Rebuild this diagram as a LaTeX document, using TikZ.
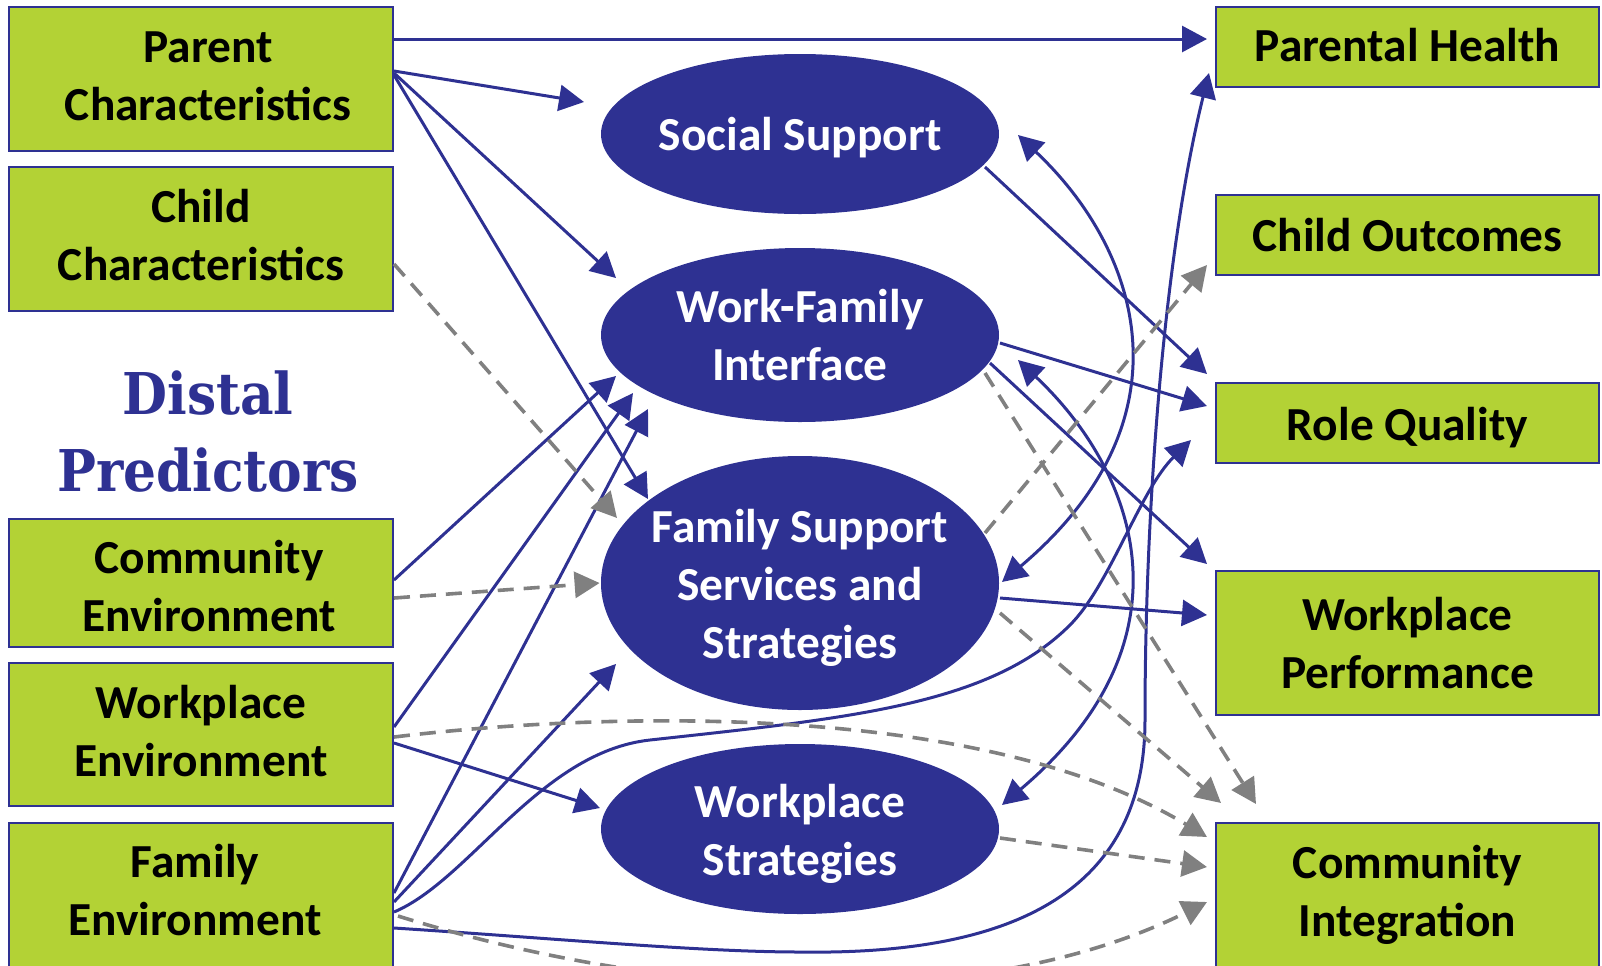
\documentclass[tikz,border=0pt]{standalone}
\usepackage{fontspec}
\setmainfont{Carlito}
\newfontfamily\slabfont{DejaVu Serif Condensed}
\usetikzlibrary{arrows.meta,shapes.geometric,calc}

\definecolor{boxgreen}{RGB}{179,210,53}
\definecolor{deepblue}{RGB}{46,49,146}
\definecolor{linegray}{RGB}{128,128,128}

\tikzset{
  labelfont/.style={font=\bfseries\fontsize{23.7}{29}\selectfont},
  boxtext/.style={text=black, align=center, labelfont},
  outbox/.style={draw=deepblue, line width=1pt, fill=boxgreen, inner sep=0pt},
  leftbox/.style={outbox, minimum width=192pt},
  rightbox/.style={outbox, minimum width=191.5pt},
  oval/.style={ellipse, fill=deepblue, draw=none, minimum width=199pt, inner sep=0pt},
  ovaltext/.style={text=white, align=center, labelfont},
  tip/.tip={Triangle[length=12.5pt,width=13pt]},
  link/.style={draw=deepblue, line width=1.5pt, -tip},
  twoway/.style={draw=deepblue, line width=1.5pt, tip-tip},
  dlink/.style={draw=linegray, line width=1.8pt, dash pattern=on 8pt off 5pt, -tip}
}

\begin{document}
\begin{tikzpicture}[x=0.5pt,y=-0.5pt]
\useasboundingbox (0,0) rectangle (1602,965);

% predictors (left column)
\node[leftbox, minimum height=72pt,
  label={[boxtext, xshift=3.5pt, yshift=1.5pt]center:{Parent\\Characteristics}}] (pc) at (201,79) {};
\node[leftbox, minimum height=72pt,
  label={[boxtext, yshift=2pt]center:{Child\\Characteristics}}] (cc) at (201,239) {};
\node[leftbox, minimum height=64pt,
  label={[boxtext, xshift=4pt, yshift=-1.5pt]center:{Community\\Environment}}] (ce) at (201,583) {};
\node[leftbox, minimum height=71.5pt,
  label={[boxtext, yshift=1.5pt]center:{Workplace\\Environment}}] (we) at (201,734.5) {};
\node[leftbox, minimum height=72pt,
  label={[boxtext, xshift=-3pt, yshift=2.5pt]center:{Family\\Environment}}] (fe) at (201,895) {};

\node[font=\slabfont\bfseries\fontsize{28.8}{38.5}\selectfont, text=deepblue, align=center]
  (dp) at (208,432) {Distal\\Predictors};

% mediators (centre column)
\node[oval, minimum height=80pt,
  label={[ovaltext, yshift=-2pt]center:Social Support}] (ss) at (800,134) {};
\node[oval, minimum height=87pt,
  label={[ovaltext]center:{Work-Family\\Interface}}] (wf) at (800,335) {};
\node[oval, minimum height=127pt,
  label={[ovaltext, yshift=-2.5pt]center:{Family Support\\Services and\\Strategies}}] (fs) at (800,583) {};
\node[oval, minimum height=85pt,
  label={[ovaltext, yshift=-2.5pt]center:{Workplace\\Strategies}}] (ws) at (800,829) {};

% outcomes (right column)
\node[rightbox, minimum height=40pt,
  label={[boxtext, yshift=1pt]center:Parental Health}] (ph) at (1407.5,47) {};
\node[rightbox, minimum height=40pt,
  label={[boxtext]center:Child Outcomes}] (co) at (1407.5,235) {};
\node[rightbox, minimum height=40pt,
  label={[boxtext, yshift=-2.5pt]center:Role Quality}] (rq) at (1407.5,423) {};
\node[rightbox, minimum height=72pt,
  label={[boxtext]center:{Workplace\\Performance}}] (wp) at (1407.5,643) {};
\node[rightbox, minimum height=72pt,
  label={[boxtext]center:{Community\\Integration}}] (ci) at (1407.5,895) {};

% solid paths
\draw[link] ($(pc.east)+(0,-40)$) -- ($(ph.west)+(-8,-8)$);
\draw[link] ($(pc.east)+(0,-8)$) -- ($(ss.center)+(-216,-32)$);
\draw[link] ($(pc.east)+(0,-6)$) -- ($(wf.center)+(-184,-57)$);
\draw[link] ($(pc.east)+(0,-4)$) -- ($(fs.center)+(-152,-84)$);
\draw[link] ($(ce.east)+(0,-3)$) -- ($(wf.center)+(-184,41)$);
\draw[link] ($(we.east)+(0,-7.5)$) -- ($(wf.center)+(-167,58)$);
\draw[link] ($(fe.east)+(0,-2)$) -- ($(wf.center)+(-152,74)$);
\draw[link] ($(fe.east)+(0,7)$) -- ($(fs.center)+(-184,81)$);
\draw[link] ($(we.east)+(0,8.5)$) -- ($(ws.center)+(-200,-21)$);

\draw[link] ($(fe.east)+(0,17)$)
  .. controls (470,880) and (540,752) .. (650,740)
  .. controls (850,718) and (990,705) .. (1070,625)
  .. controls (1110,585) and (1140,490) .. ($(rq.west)+(-24,17)$);

\draw[link] ($(fe.east)+(0,33)$)
  .. controls (550,938) and (700,952) .. (800,952)
  .. controls (1000,955) and (1145,900) .. (1145,720)
  .. controls (1145,500) and (1165,250) .. ($(ph.south west)+(-6,-15)$);

\draw[link] ($(ss.center)+(185,33)$) -- ($(rq.west)+(-8,-49)$);
\draw[link] ($(wf.center)+(200,8)$) -- ($(rq.west)+(-8,-17)$);
\draw[link] ($(wf.center)+(190,28)$) -- ($(wp.north west)+(-8,-6)$);
\draw[link] ($(fs.center)+(200,15)$) -- ($(wp.west)+(-8,-28)$);

\draw[twoway] ($(ss.center)+(218,1)$) .. controls (1140,250) and (1195,419) .. ($(fs.center)+(202,-1)$);
\draw[twoway] ($(wf.center)+(218,25)$) .. controls (1140,475) and (1195,642) .. ($(ws.center)+(202,-24)$);

% dashed paths
\draw[dlink] ($(cc.east)+(0,25)$) -- ($(fs.center)+(-183,-65)$);
\draw[dlink] ($(ce.east)+(0,15)$) -- ($(fs.west)+(-1,0)$);
\draw[dlink] ($(fs.center)+(185,-50)$) -- ($(co.south west)+(-8,-11)$);
\draw[dlink] ($(wf.center)+(185,38)$) -- ($(ci.north west)+(41,-18)$);
\draw[dlink] ($(fs.center)+(200,30)$) -- ($(ci.north west)+(6,-19)$);
\draw[dlink] ($(we.east)+(0,2.5)$) .. controls (600,712) and (980,700) .. ($(ci.north west)+(-8,15)$);
\draw[dlink] ($(ws.center)+(200,9)$) -- ($(ci.north west)+(-8,45)$);
\draw[dlink] ($(fe.east)+(4,21)$) .. controls (700,1010) and (1000,1005) .. ($(ci.north west)+(-8,80)$);
\end{tikzpicture}
\end{document}
